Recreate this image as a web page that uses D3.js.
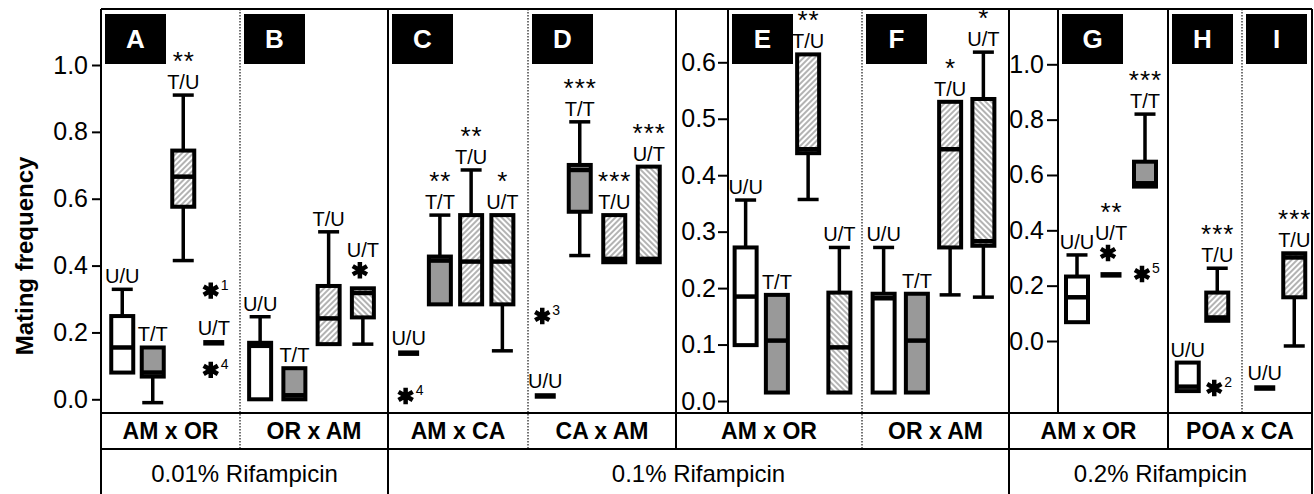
<!DOCTYPE html>
<html>
<head>
<meta charset="utf-8">
<script src="https://cdn.jsdelivr.net/npm/d3@7"></script>
<style>
body { margin: 0; background: #fff; }
text { font-family: "Liberation Sans", Arial, sans-serif; }
</style>
</head>
<body>
<div id="chart"></div>
<script>
// ---- data ----
var panelNames = ["A", "B", "C", "D", "E", "F", "G", "H", "I"];
var crosses = ["AM x OR", "OR x AM", "AM x CA", "CA x AM", "AM x OR", "OR x AM", "AM x OR", "POA x CA"];
var doses = ["0.01% Rifampicin", "0.1% Rifampicin", "0.2% Rifampicin"];
var ticks1 = [0, 0.2, 0.4, 0.6, 0.8, 1.0];
var ticks2 = [0, 0.1, 0.2, 0.3, 0.4, 0.5, 0.6];
var ticks3 = [0, 0.2, 0.4, 0.6, 0.8, 1.0];

// box stats: lo whisker, q1, median, q3, hi whisker, significance, extra stars [value, note]
var boxA = [
    {cat: "U/U", lo: 0.080, q1: 0.080, med: 0.155, q3: 0.249, hi: 0.329, sig: "", out: []},
    {cat: "T/T", lo: -0.010, q1: 0.068, med: 0.080, q3: 0.155, hi: 0.155, sig: "", out: []},
    {cat: "T/U", lo: 0.415, q1: 0.576, med: 0.666, q3: 0.744, hi: 0.910, sig: "**", out: []},
    {cat: "U/T", lo: 0.169, q1: 0.169, med: 0.169, q3: 0.169, hi: 0.169, sig: "", out: [[0.325, "1"], [0.088, "4"]]}
];
var boxB = [
    {cat: "U/U", lo: 0.000, q1: 0.000, med: 0.160, q3: 0.169, hi: 0.247, sig: "", out: []},
    {cat: "T/T", lo: 0.000, q1: 0.000, med: 0.012, q3: 0.093, hi: 0.093, sig: "", out: []},
    {cat: "T/U", lo: 0.165, q1: 0.165, med: 0.242, q3: 0.339, hi: 0.501, sig: "", out: []},
    {cat: "U/T", lo: 0.165, q1: 0.245, med: 0.318, q3: 0.332, hi: 0.332, sig: "", out: [[0.386, ""]]}
];
var boxC = [
    {cat: "U/U", lo: 0.138, q1: 0.138, med: 0.138, q3: 0.138, hi: 0.138, sig: "", out: [[0.010, "4"]]},
    {cat: "T/T", lo: 0.284, q1: 0.284, med: 0.415, q3: 0.427, hi: 0.551, sig: "**", out: []},
    {cat: "T/U", lo: 0.284, q1: 0.284, med: 0.412, q3: 0.551, hi: 0.686, sig: "**", out: []},
    {cat: "U/T", lo: 0.145, q1: 0.284, med: 0.412, q3: 0.551, hi: 0.551, sig: "*", out: []}
];
var boxD = [
    {cat: "U/U", lo: 0.010, q1: 0.010, med: 0.010, q3: 0.010, hi: 0.010, sig: "", out: [[0.249, "3"]]},
    {cat: "T/T", lo: 0.430, q1: 0.561, med: 0.686, q3: 0.701, hi: 0.830, sig: "***", out: []},
    {cat: "T/U", lo: 0.410, q1: 0.410, med: 0.420, q3: 0.551, hi: 0.551, sig: "***", out: []},
    {cat: "U/T", lo: 0.410, q1: 0.410, med: 0.420, q3: 0.696, hi: 0.696, sig: "***", out: []}
];
var boxE = [
    {cat: "U/U", lo: 0.099, q1: 0.099, med: 0.185, q3: 0.272, hi: 0.356, sig: "", out: []},
    {cat: "T/T", lo: 0.015, q1: 0.015, med: 0.107, q3: 0.188, hi: 0.188, sig: "", out: []},
    {cat: "T/U", lo: 0.357, q1: 0.439, med: 0.446, q3: 0.614, hi: 0.614, sig: "**", out: []},
    {cat: "U/T", lo: 0.015, q1: 0.015, med: 0.095, q3: 0.192, hi: 0.272, sig: "", out: []}
];
var boxF = [
    {cat: "U/U", lo: 0.015, q1: 0.015, med: 0.182, q3: 0.190, hi: 0.272, sig: "", out: []},
    {cat: "T/T", lo: 0.015, q1: 0.015, med: 0.107, q3: 0.190, hi: 0.190, sig: "", out: []},
    {cat: "T/U", lo: 0.188, q1: 0.272, med: 0.446, q3: 0.530, hi: 0.530, sig: "*", out: []},
    {cat: "U/T", lo: 0.184, q1: 0.275, med: 0.283, q3: 0.535, hi: 0.618, sig: "*", out: []}
];
var boxG = [
    {cat: "U/U", lo: 0.068, q1: 0.068, med: 0.158, q3: 0.233, hi: 0.311, sig: "", out: []},
    {cat: "U/T", lo: 0.239, q1: 0.239, med: 0.239, q3: 0.239, hi: 0.239, sig: "**", out: [[0.318, ""]]},
    {cat: "T/T", lo: 0.558, q1: 0.558, med: 0.570, q3: 0.648, hi: 0.820, sig: "***", out: [[0.242, "5"]]}
];
var boxH = [
    {cat: "U/U", lo: -0.181, q1: -0.181, med: -0.165, q3: -0.078, hi: -0.078, sig: "", out: []},
    {cat: "T/U", lo: 0.073, q1: 0.073, med: 0.085, q3: 0.175, hi: 0.263, sig: "***", out: [[-0.170, "2"]]}
];
var boxI = [
    {cat: "U/U", lo: -0.170, q1: -0.170, med: -0.170, q3: -0.170, hi: -0.170, sig: "", out: []},
    {cat: "T/U", lo: -0.018, q1: 0.158, med: 0.302, q3: 0.317, hi: 0.317, sig: "***", out: []}
];

// ---- layout ----
var W = 1314, H = 494;
var frameTop = 9, plotBottom = 413, rowBottom = 449;
var frameL = 101, frameR = 1312;

var svg = d3.select("#chart").append("svg")
    .attr("width", W)
    .attr("height", H);

var defs = svg.append("defs");
function hatch(id, angle) {
    var p = defs.append("pattern")
        .attr("id", id)
        .attr("patternUnits", "userSpaceOnUse")
        .attr("width", 4).attr("height", 4)
        .attr("patternTransform", "rotate(" + angle + ")");
    p.append("rect").attr("width", 4).attr("height", 4).attr("fill", "#fff");
    p.append("line").attr("x1", 1).attr("x2", 1).attr("y1", 0).attr("y2", 4)
        .attr("stroke", "#808080").attr("stroke-width", 1.2);
}
hatch("hatchF", 45);
hatch("hatchB", -45);

var fillFor = {"U/U": "#fff", "T/T": "#999", "T/U": "url(#hatchF)", "U/T": "url(#hatchB)"};

var y1 = d3.scaleLinear().domain([0, 1]).range([399.3, 65]);
var y2 = d3.scaleLinear().domain([0, 0.6]).range([401, 62.3]);
var y3 = d3.scaleLinear().domain([0, 1]).range([341, 64.3]);

var panels = [
    {name: "A", data: boxA, y: y1, left: 101, range: [107, 229]},
    {name: "B", data: boxB, y: y1, left: 240, range: [243, 380]},
    {name: "C", data: boxC, y: y1, left: 388, range: [393, 518]},
    {name: "D", data: boxD, y: y1, left: 528, range: [528, 666]},
    {name: "E", data: boxE, y: y2, left: 728, range: [730, 855]},
    {name: "F", data: boxF, y: y2, left: 862, range: [867, 1000]},
    {name: "G", data: boxG, y: y3, left: 1058, range: [1060, 1162]},
    {name: "H", data: boxH, y: y3, left: 1168, range: [1173, 1232]},
    {name: "I", data: boxI, y: y3, left: 1242, range: [1250, 1309]}
];

var crossCells = [[101, 240], [240, 388], [388, 528], [528, 676], [676, 862], [862, 1009], [1009, 1168], [1168, 1312]];
var doseCells = [[101, 388], [388, 1009], [1009, 1312]];

// ---- frame lines ----
var frame = svg.append("g").attr("stroke", "#000").attr("fill", "none");
[101, 388, 1009, 1312].forEach(function(x) {
    frame.append("line").attr("x1", x).attr("x2", x).attr("y1", frameTop).attr("y2", H).attr("stroke-width", 2);
});
[676, 1168].forEach(function(x) {
    frame.append("line").attr("x1", x).attr("x2", x).attr("y1", frameTop).attr("y2", rowBottom).attr("stroke-width", 2);
});
[728, 1058].forEach(function(x) {
    frame.append("line").attr("x1", x).attr("x2", x).attr("y1", frameTop).attr("y2", plotBottom).attr("stroke-width", 2);
});
[240, 528, 862].forEach(function(x) {
    frame.append("line").attr("x1", x).attr("x2", x).attr("y1", frameTop).attr("y2", rowBottom)
        .attr("stroke-width", 1.5).attr("stroke", "#444").attr("stroke-dasharray", "1.5,1.5");
});
[1242].forEach(function(x) {
    frame.append("line").attr("x1", x).attr("x2", x).attr("y1", frameTop).attr("y2", plotBottom)
        .attr("stroke-width", 1.5).attr("stroke", "#444").attr("stroke-dasharray", "1.5,1.5");
});
[frameTop, plotBottom, rowBottom].forEach(function(y) {
    frame.append("line").attr("x1", frameL).attr("x2", frameR).attr("y1", y).attr("y2", y).attr("stroke-width", 2);
});

// ---- axes ----
function drawAxis(scale, vals, x, size, pad) {
    var g = svg.append("g")
        .attr("transform", "translate(" + x + ",0)")
        .call(d3.axisLeft(scale).tickValues(vals).tickFormat(d3.format(".1f")).tickSize(size).tickPadding(pad));
    g.select(".domain").remove();
    g.selectAll(".tick line").attr("stroke-width", 2);
    g.selectAll(".tick text")
        .attr("font-size", 25)
        .attr("font-family", "'Liberation Sans', Arial, sans-serif")
        .attr("fill", "#000");
}
drawAxis(y1, ticks1, 101, 9, 4);
drawAxis(y2, ticks2, 728, 10, 2);
drawAxis(y3, ticks3, 1058, 11, 3);

svg.append("text")
    .attr("transform", "translate(33,256) rotate(-90)")
    .attr("text-anchor", "middle")
    .attr("font-size", 24)
    .attr("font-weight", "bold")
    .text("Mating frequency");

// ---- bottom label rows ----
svg.selectAll(".cross")
    .data(crosses)
    .enter().append("text")
    .attr("class", "cross")
    .attr("x", function(d, i) { return (crossCells[i][0] + crossCells[i][1]) / 2; })
    .attr("y", 439)
    .attr("text-anchor", "middle")
    .attr("font-size", 23)
    .attr("font-weight", "bold")
    .text(function(d) { return d; });

svg.selectAll(".dose")
    .data(doses)
    .enter().append("text")
    .attr("class", "dose")
    .attr("x", function(d, i) { return (doseCells[i][0] + doseCells[i][1]) / 2; })
    .attr("y", 482)
    .attr("text-anchor", "middle")
    .attr("font-size", 24)
    .text(function(d) { return d; });

// ---- boxes ----
var heavyStar = d3.symbol().type(d3.symbolAsterisk).size(190);
var boxW = 22, capW = 21;

panels.forEach(function(p) {
    var g = svg.append("g");

    // panel letter
    g.append("rect")
        .attr("x", p.left + 4).attr("y", 14)
        .attr("width", 61).attr("height", 50)
        .attr("fill", "#000");
    g.append("text")
        .attr("x", p.left + 34.5).attr("y", 48)
        .attr("text-anchor", "middle")
        .attr("font-size", 26)
        .attr("font-weight", "bold")
        .attr("fill", "#fff")
        .text(p.name);

    var x = d3.scaleBand().domain(p.data.map(function(d) { return d.cat; })).range(p.range);
    var y = p.y;

    p.data.forEach(function(d) {
        var cx = x(d.cat) + x.bandwidth() / 2;
        var flat = d.q1 === d.q3;
        var b = g.append("g");

        if (flat) {
            b.append("rect")
                .attr("x", cx - 10.5).attr("y", y(d.med) - 2.75)
                .attr("width", 21).attr("height", 5.5)
                .attr("fill", "#000");
        } else {
            // whiskers
            if (d.hi > d.q3) {
                b.append("line").attr("x1", cx).attr("x2", cx).attr("y1", y(d.q3)).attr("y2", y(d.hi))
                    .attr("stroke", "#000").attr("stroke-width", 3.5);
                b.append("line").attr("x1", cx - capW / 2).attr("x2", cx + capW / 2).attr("y1", y(d.hi)).attr("y2", y(d.hi))
                    .attr("stroke", "#000").attr("stroke-width", 3.5);
            }
            if (d.lo < d.q1) {
                b.append("line").attr("x1", cx).attr("x2", cx).attr("y1", y(d.q1)).attr("y2", y(d.lo))
                    .attr("stroke", "#000").attr("stroke-width", 3.5);
                b.append("line").attr("x1", cx - capW / 2).attr("x2", cx + capW / 2).attr("y1", y(d.lo)).attr("y2", y(d.lo))
                    .attr("stroke", "#000").attr("stroke-width", 3.5);
            }
            b.append("rect")
                .attr("x", cx - boxW / 2).attr("y", y(d.q3))
                .attr("width", boxW).attr("height", y(d.q1) - y(d.q3))
                .attr("fill", fillFor[d.cat])
                .attr("stroke", "#000").attr("stroke-width", 4);
            b.append("line")
                .attr("x1", cx - boxW / 2).attr("x2", cx + boxW / 2)
                .attr("y1", y(d.med)).attr("y2", y(d.med))
                .attr("stroke", "#000").attr("stroke-width", 4.5);
        }

        // label sits above the box / whisker, or above an un-numbered star that sits on top
        var topY = y(Math.max(d.hi, d.q3)) - (flat ? 8 : 6);
        d.out.forEach(function(o) {
            if (!o[1] && o[0] > d.hi) topY = Math.min(topY, y(o[0]) - 13);
        });

        d.out.forEach(function(o) {
            b.append("path")
                .attr("d", heavyStar)
                .attr("transform", "translate(" + (cx - 3) + "," + y(o[0]) + ")")
                .attr("fill", "none").attr("stroke", "#000").attr("stroke-width", 4.5);
            if (o[1]) {
                b.append("text")
                    .attr("x", cx + 7).attr("y", y(o[0]) - 1)
                    .attr("font-size", 14)
                    .attr("fill", "#000")
                    .text(o[1]);
            }
        });

        b.append("text")
            .attr("x", cx).attr("y", topY)
            .attr("text-anchor", "middle")
            .attr("font-size", 20)
            .text(d.cat);
        if (d.sig) {
            b.append("text")
                .attr("x", cx + 0.5).attr("y", topY - 19)
                .attr("text-anchor", "middle")
                .attr("font-size", 26)
                .attr("letter-spacing", 1)
                .text(d.sig);
        }
    });
});
</script>
</body>
</html>
